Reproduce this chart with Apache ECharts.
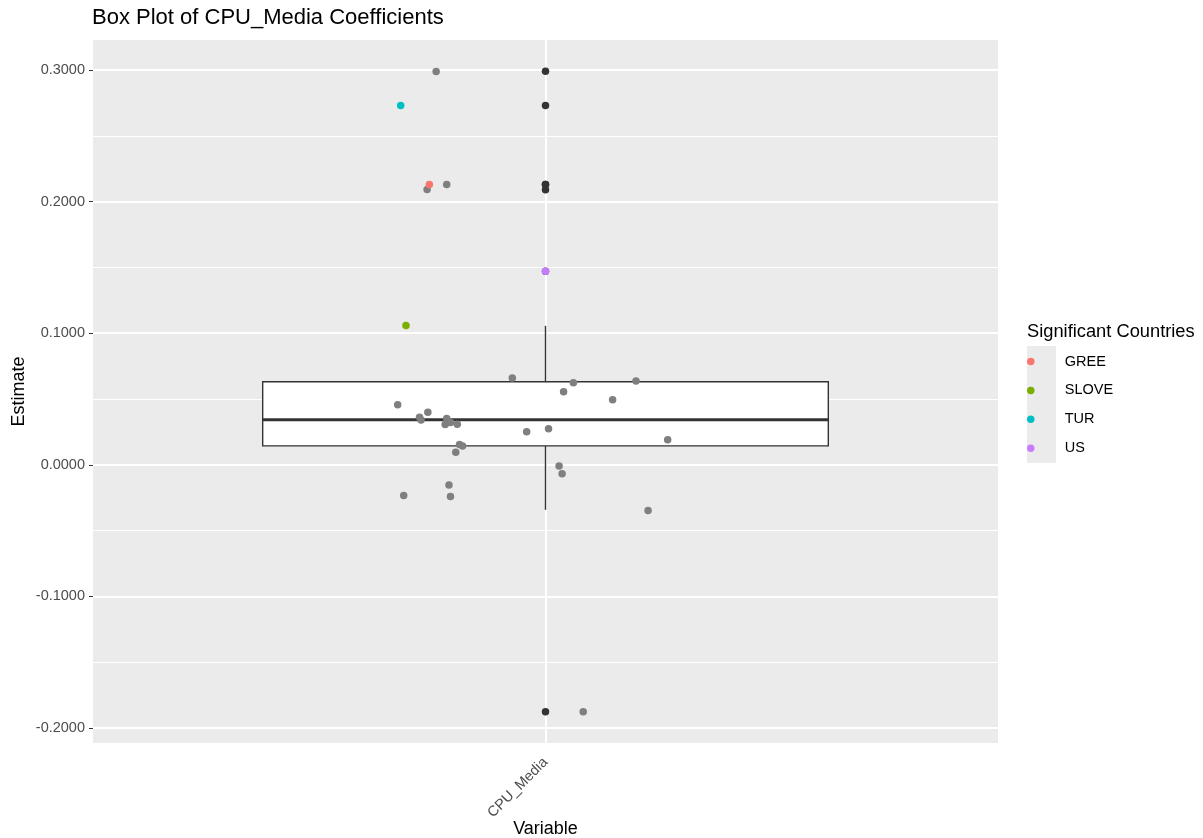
<!DOCTYPE html>
<html>
<head>
<meta charset="utf-8">
<script src="https://cdn.jsdelivr.net/npm/echarts@6/dist/echarts.min.js"></script>
<style>
html,body{margin:0;padding:0;background:#fff;}
#chart{width:1203px;height:838px;}
</style>
</head>
<body>
<div id="chart"></div>
<script>
// ---- data ----
const categories = ['CPU_Media'];
// [whisker low, Q1, median, Q3, whisker high]
const boxStats = [-0.0342, 0.0144, 0.0342, 0.0631, 0.1056];
const outlierValues = [0.299, 0.273, 0.213, 0.213, 0.209, 0.147, -0.1877];

const jitterX = [0.855, 0.843, 0.869, 0.956, 1.037, 1.120, 1.024, 1.089, 0.804, 0.844, 0.833, 0.835,
  0.869, 0.867, 0.874, 0.883, 0.975, 1.004, 1.162, 0.886, 0.890, 0.881, 1.018, 1.022, 0.872, 0.812,
  0.874, 1.136, 1.050];
const jitterY = [0.2988, 0.2092, 0.2130, 0.0659, 0.0623, 0.0636, 0.0555, 0.0494, 0.0456, 0.0400, 0.0362, 0.0340,
  0.0352, 0.0306, 0.0322, 0.0309, 0.0251, 0.0274, 0.0190, 0.0154, 0.0142, 0.0096, -0.0010, -0.0068, -0.0154, -0.0233,
  -0.0241, -0.0347, -0.1877];

const countries = ['GREE', 'SLOVE', 'TUR', 'US'];
const countryX = [0.846, 0.815, 0.808, 1.000];
const countryY = [0.2130, 0.1059, 0.2730, 0.1470];
const countryColors = ['#F8766D', '#7CAE00', '#00BFC4', '#C77CFF'];

const yMajorTicks = [-0.2, -0.1, 0.0, 0.1, 0.2, 0.3];
const yMinorTicks = [-0.15, -0.05, 0.05, 0.15, 0.25];
const xTicks = [1];

// ---- chart ----
const FONT = "'Liberation Sans', Arial, sans-serif";
const chart = echarts.init(document.getElementById('chart'), null, {renderer: 'canvas'});
const yMin = -0.2114, yMax = 0.3228;

const series = [];
series.push({
  type: 'custom',
  name: 'box',
  z: 2,
  data: [[1].concat(boxStats)],
  encode: {x: 0, y: [1, 2, 3, 4, 5]},
  renderItem: function (params, api) {
    const x = api.value(0);
    const lo = api.value(1), q1 = api.value(2), med = api.value(3), q3 = api.value(4), hi = api.value(5);
    const hw = 0.375;
    const pHi = api.coord([x, hi]), pQ3 = api.coord([x, q3]), pQ1 = api.coord([x, q1]), pLo = api.coord([x, lo]);
    const tl = api.coord([x - hw, q3]), br = api.coord([x + hw, q1]);
    const ml = api.coord([x - hw, med]), mr = api.coord([x + hw, med]);
    const stroke = '#333333';
    return {
      type: 'group',
      children: [
        {type: 'line', shape: {x1: pQ3[0], y1: pQ3[1], x2: pHi[0], y2: pHi[1]}, style: {stroke: stroke, lineWidth: 1.4}},
        {type: 'line', shape: {x1: pQ1[0], y1: pQ1[1], x2: pLo[0], y2: pLo[1]}, style: {stroke: stroke, lineWidth: 1.4}},
        {type: 'rect', shape: {x: tl[0], y: tl[1], width: br[0] - tl[0], height: br[1] - tl[1]}, style: {fill: '#FFFFFF', stroke: stroke, lineWidth: 1.4}},
        {type: 'line', shape: {x1: ml[0], y1: ml[1], x2: mr[0], y2: mr[1]}, style: {stroke: stroke, lineWidth: 3}}
      ]
    };
  }
});
series.push({
  type: 'scatter', name: 'outliers', z: 3, symbolSize: 7.5, silent: true,
  itemStyle: {color: '#333333', opacity: 1},
  data: outlierValues.map(v => [1, v])
});
series.push({
  type: 'scatter', name: 'jitter', z: 4, symbolSize: 7.5, silent: true,
  itemStyle: {color: '#7F7F7F', opacity: 1},
  data: jitterX.map((x, i) => [x, jitterY[i]])
});
countries.forEach((c, i) => {
  series.push({
    type: 'scatter', name: c, z: 5, symbolSize: 7.5, silent: true,
    itemStyle: {color: countryColors[i], opacity: 1},
    data: [[countryX[i], countryY[i]]]
  });
});

const option = {
  animation: false,
  backgroundColor: '#FFFFFF',
  title: [
    {text: 'Box Plot of CPU_Media Coefficients', left: 92, top: 7, padding: 0,
     textStyle: {fontFamily: FONT, fontSize: 22, fontWeight: 'normal', color: '#000000'}},
    {text: 'Significant Countries', left: 1027, top: 323, padding: 0,
     textStyle: {fontFamily: FONT, fontSize: 18.3, fontWeight: 'normal', color: '#000000'}}
  ],
  legend: {
    data: countries.map(c => ({name: c, icon: 'circle'})),
    orient: 'vertical', left: 1027, top: 354, padding: 0,
    itemWidth: 28, itemHeight: 7.5, itemGap: 13.9,
    selectedMode: false,
    formatter: name => '{p|}{t|' + name + '}',
    textStyle: {fontFamily: FONT, fontSize: 14.5, color: '#000000', lineHeight: 15,
      rich: {p: {width: 15}, t: {fontFamily: FONT, fontSize: 14.5, color: '#000000', lineHeight: 15}}}
  },
  graphic: [
    {type: 'rect', left: 1027, top: 346, z: -1, shape: {width: 29, height: 117}, style: {fill: '#EBEBEB'}}
  ],
  grid: {left: 93, top: 40, width: 905, height: 703, show: true, backgroundColor: '#EBEBEB', borderWidth: 0,
         containLabel: false, outerBoundsMode: 'none'},
  xAxis: {
    type: 'value', min: 0.4, max: 1.6,
    name: 'Variable', nameLocation: 'middle', nameGap: 77, nameMoveOverlap: false,
    nameTextStyle: {fontFamily: FONT, fontSize: 18, color: '#000000'},
    axisLine: {show: false},
    axisTick: {show: true, length: 4, customValues: xTicks, lineStyle: {color: '#333333', width: 1}},
    axisLabel: {customValues: xTicks, rotate: 45, margin: 17, fontFamily: FONT, fontSize: 14.5, color: '#4D4D4D',
      formatter: v => categories[Math.round(v) - 1] || ''},
    splitLine: {show: true, lineStyle: {color: '#FFFFFF', width: 2}}
  },
  yAxis: [
    {
      type: 'value', min: yMin, max: yMax,
      name: 'Estimate', nameLocation: 'middle', nameGap: 64.5, nameRotate: 90, nameMoveOverlap: false,
      nameTextStyle: {fontFamily: FONT, fontSize: 18, color: '#000000'},
      axisLine: {show: false},
      axisTick: {show: true, length: 4, customValues: yMajorTicks, lineStyle: {color: '#333333', width: 1}},
      axisLabel: {customValues: yMajorTicks, margin: 8, fontFamily: FONT, fontSize: 14.5, color: '#4D4D4D',
        formatter: v => v.toFixed(4)},
      splitLine: {show: true, lineStyle: {color: '#FFFFFF', width: 2}},
      z: 1
    },
    {
      type: 'value', min: yMin, max: yMax, position: 'left',
      axisLine: {show: false},
      axisTick: {show: false, customValues: yMinorTicks},
      axisLabel: {show: false, customValues: yMinorTicks},
      splitLine: {show: true, lineStyle: {color: '#FFFFFF', width: 1}},
      z: 0
    }
  ],
  series: series
};
chart.setOption(option);
</script>
</body>
</html>
